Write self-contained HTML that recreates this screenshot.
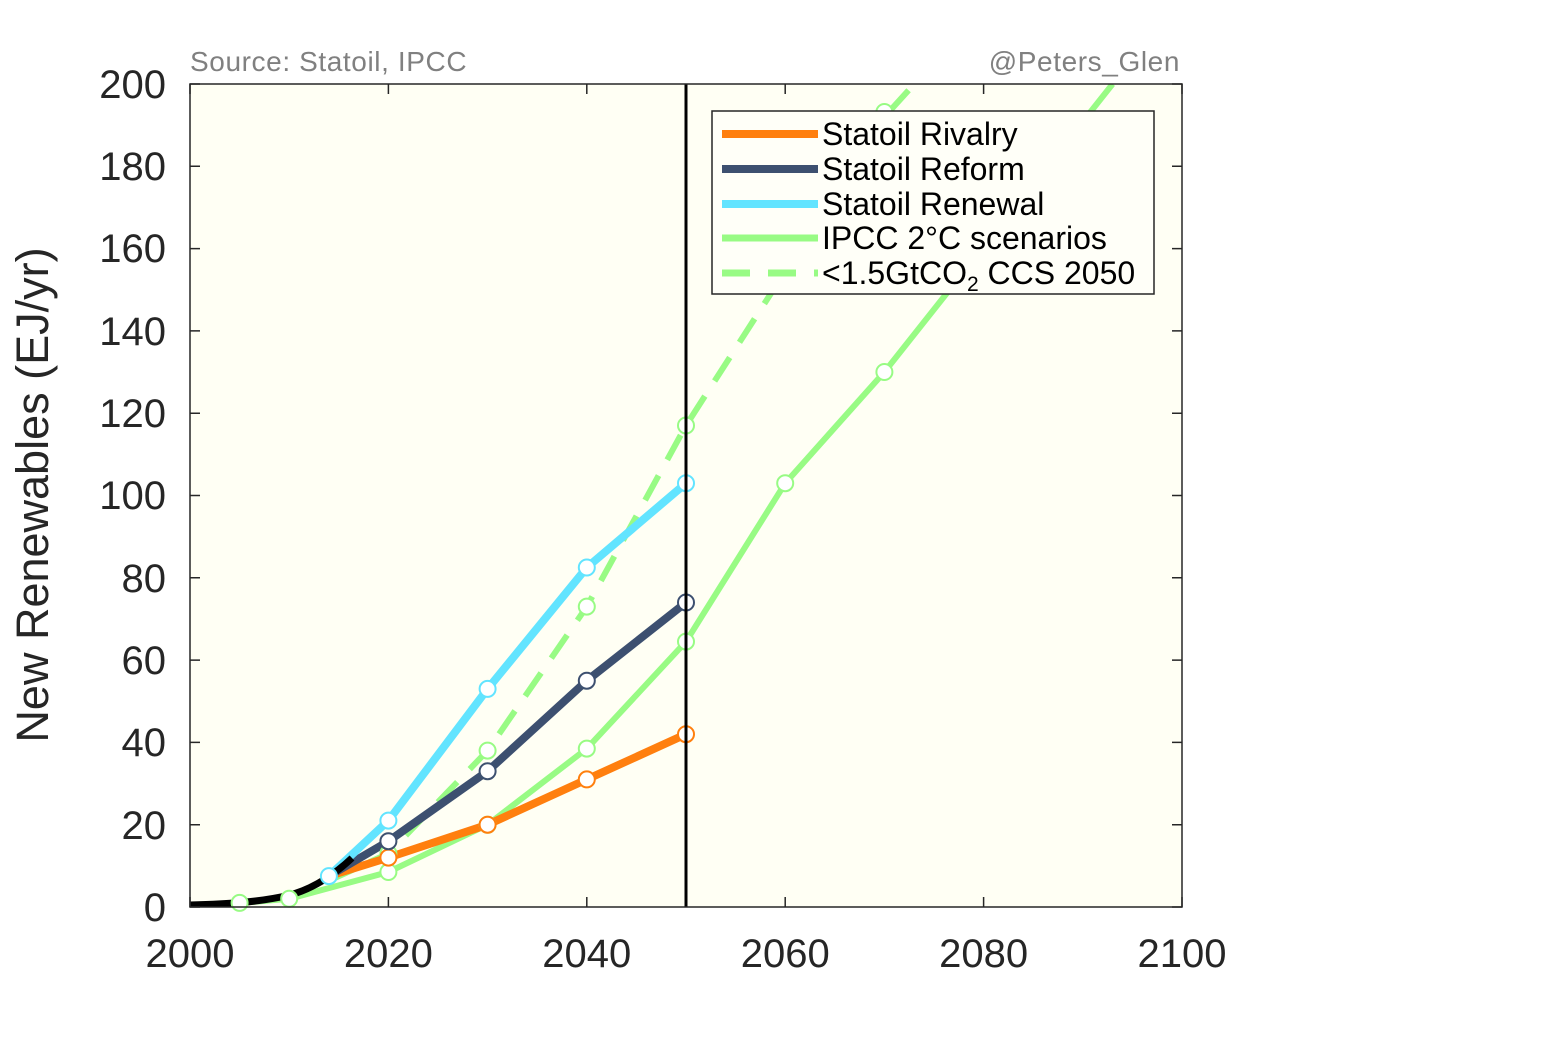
<!DOCTYPE html>
<html><head><meta charset="utf-8"><style>
html,body{margin:0;padding:0;background:#fff;}
svg{display:block;font-family:"Liberation Sans",Arial,sans-serif;}
</style></head><body>
<svg width="1563" height="1042" viewBox="0 0 1563 1042">
<defs><clipPath id="c"><rect x="190" y="84" width="992" height="823"/></clipPath></defs>
<rect x="190" y="84" width="992" height="823" fill="#fffff4"/>
<g clip-path="url(#c)" fill="none" stroke-linejoin="round">
<polyline points="239.6,902.9 289.2,898.8 388.4,853.5 487.6,750.6 586.8,606.6 686,425.5 884.4,116.9 914.2,84" stroke="#98fb84" stroke-width="6" stroke-dasharray="28,18"/>
<polyline points="239.6,902.9 289.2,898.8 388.4,872 487.6,824.7 586.8,748.6 686,641.6 785.2,483.2 884.4,372 1112.6,84" stroke="#98fb84" stroke-width="6"/>
<polyline points="328.9,876.1 388.4,857.6 487.6,824.7 586.8,779.4 686,734.2" stroke="#ff7f0e" stroke-width="8"/>
<polyline points="328.9,876.1 388.4,841.2 487.6,771.2 586.8,680.7 686,602.5" stroke="#3d5070" stroke-width="8"/>
<polyline points="328.9,876.1 388.4,820.6 487.6,688.9 586.8,567.5 686,483.2" stroke="#62e4ff" stroke-width="8"/>
<path d="M190,905 C230,904 260,902 290,895 C315,888 335,874 352,858" stroke="#000" stroke-width="7"/>
</g>
<g stroke-width="2" fill="#fff">
<g stroke="#98fb84">
<circle cx="239.6" cy="902.9" r="8"/><circle cx="289.2" cy="898.8" r="8"/><circle cx="388.4" cy="853.5" r="8"/><circle cx="487.6" cy="750.6" r="8"/><circle cx="586.8" cy="606.6" r="8"/><circle cx="686" cy="425.5" r="8"/><circle cx="884.4" cy="112" r="8"/>
<circle cx="388.4" cy="872" r="8"/><circle cx="487.6" cy="824.7" r="8"/><circle cx="586.8" cy="748.6" r="8"/><circle cx="686" cy="641.6" r="8"/><circle cx="785.2" cy="483.2" r="8"/><circle cx="884.4" cy="372" r="8"/>
</g>
<g stroke="#ff7f0e"><circle cx="388.4" cy="857.6" r="8"/><circle cx="487.6" cy="824.7" r="8"/><circle cx="586.8" cy="779.4" r="8"/><circle cx="686" cy="734.2" r="8"/></g>
<g stroke="#3d5070"><circle cx="388.4" cy="841.2" r="8"/><circle cx="487.6" cy="771.2" r="8"/><circle cx="586.8" cy="680.7" r="8"/><circle cx="686" cy="602.5" r="8"/></g>
<g stroke="#62e4ff"><circle cx="328.9" cy="876.1" r="8"/><circle cx="388.4" cy="820.6" r="8"/><circle cx="487.6" cy="688.9" r="8"/><circle cx="586.8" cy="567.5" r="8"/><circle cx="686" cy="483.2" r="8"/></g>
</g>
<line x1="686" y1="84" x2="686" y2="907" stroke="#000" stroke-width="3"/>
<rect x="190" y="84" width="992" height="823" fill="none" stroke="#262626" stroke-width="1.5"/>
<g stroke="#262626" stroke-width="1.5">
<path d="M190,907v-10M388.4,907v-10M586.8,907v-10M785.2,907v-10M983.6,907v-10M1182,907v-10M190,84v10M388.4,84v10M586.8,84v10M785.2,84v10M983.6,84v10M1182,84v10"/>
<path d="M190,907h10M190,824.7h10M190,742.4h10M190,660.1h10M190,577.8h10M190,495.5h10M190,413.2h10M190,330.9h10M190,248.6h10M190,166.3h10M190,84h10M1182,907h-10M1182,824.7h-10M1182,742.4h-10M1182,660.1h-10M1182,577.8h-10M1182,495.5h-10M1182,413.2h-10M1182,330.9h-10M1182,248.6h-10M1182,166.3h-10M1182,84h-10"/>
</g>
<g font-size="40" fill="#262626" text-anchor="end">
<text x="166" y="921">0</text><text x="166" y="839">20</text><text x="166" y="756">40</text><text x="166" y="674">60</text><text x="166" y="592">80</text><text x="166" y="509">100</text><text x="166" y="427">120</text><text x="166" y="345">140</text><text x="166" y="262">160</text><text x="166" y="180">180</text><text x="166" y="98">200</text>
</g>
<g font-size="40" fill="#262626" text-anchor="middle">
<text x="190" y="967">2000</text><text x="388.4" y="967">2020</text><text x="586.8" y="967">2040</text><text x="785.2" y="967">2060</text><text x="983.6" y="967">2080</text><text x="1182" y="967">2100</text>
</g>
<text transform="translate(48,495) rotate(-90)" font-size="45" fill="#262626" text-anchor="middle">New Renewables (EJ/yr)</text>
<text x="190" y="71" font-size="28" letter-spacing="0.6" fill="#808080">Source: Statoil, IPCC</text>
<text x="1180" y="71" font-size="28" letter-spacing="0.6" fill="#808080" text-anchor="end">@Peters_Glen</text>
<rect x="712" y="111" width="442" height="183" fill="#fffff8" stroke="#262626" stroke-width="1.5"/>
<g stroke-width="7">
<line x1="722" y1="134" x2="818" y2="134" stroke="#ff7f0e" stroke-width="8"/>
<line x1="722" y1="169" x2="818" y2="169" stroke="#3d5070" stroke-width="8"/>
<line x1="722" y1="204" x2="818" y2="204" stroke="#62e4ff" stroke-width="8"/>
<line x1="722" y1="238" x2="818" y2="238" stroke="#98fb84"/>
<line x1="722" y1="273" x2="818" y2="273" stroke="#98fb84" stroke-dasharray="28,18"/>
</g>
<g font-size="32" fill="#000">
<text x="822" y="145">Statoil Rivalry</text>
<text x="822" y="180">Statoil Reform</text>
<text x="822" y="215">Statoil Renewal</text>
<text x="822" y="249">IPCC 2°C scenarios</text>
<text x="822" y="284">&lt;1.5GtCO<tspan font-size="21" dy="7">2</tspan><tspan dy="-7"> CCS 2050</tspan></text>
</g>
</svg>
</body></html>
